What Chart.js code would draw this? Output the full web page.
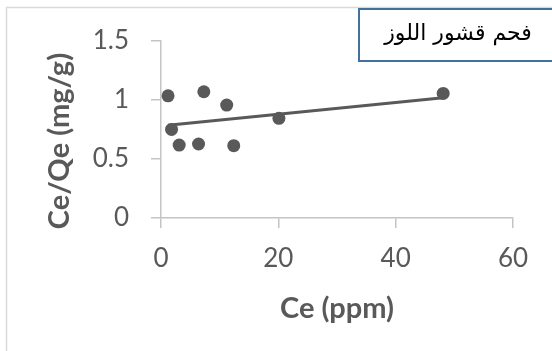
<!DOCTYPE html>
<html>
<head>
<meta charset="utf-8">
<script src="https://cdn.jsdelivr.net/npm/chart.js@4"></script>
<style>
  html, body { margin: 0; padding: 0; background: #ffffff; }
  #wrap { position: relative; width: 552px; height: 351px; overflow: hidden; }
</style>
</head>
<body>
<div id="wrap"><canvas id="chart" width="552" height="351"></canvas></div>
<script>
// Ce (ppm) against Ce/Qe (mg/g)
const ceValues = [1.2, 7.3, 11.2, 1.8, 3.1, 6.4, 12.4, 20.1, 48.1];
const ceQeValues = [1.035, 1.07, 0.957, 0.751, 0.618, 0.627, 0.613, 0.845, 1.056];
const xTicks = [0, 20, 40, 60];
const yTicks = [0, 0.5, 1, 1.5];
const boxTitle = 'فحم قشور اللوز';
const xTitle = 'Ce (ppm)';
const yTitle = 'Ce/Qe (mg/g)';

const grey = '#595959';
const axisGrey = '#c4c4c4';

// least squares fit, drawn across the range of the data
function linearFit(xs, ys) {
    const n = xs.length;
    const mx = xs.reduce((a, b) => a + b, 0) / n;
    const my = ys.reduce((a, b) => a + b, 0) / n;
    let sxy = 0, sxx = 0;
    for (let i = 0; i < n; i++) {
        sxy += (xs[i] - mx) * (ys[i] - my);
        sxx += (xs[i] - mx) * (xs[i] - mx);
    }
    const slope = sxy / sxx;
    return { slope: slope, intercept: my - slope * mx };
}

const fit = linearFit(ceValues, ceQeValues);
const xMin = Math.min(...ceValues);
const xMax = Math.max(...ceValues);
const trendPoints = [
    { x: xMin, y: fit.intercept + fit.slope * xMin },
    { x: xMax, y: fit.intercept + fit.slope * xMax }
];

const points = ceValues.map((x, i) => ({ x: x, y: ceQeValues[i] }));

// frame, title box and the vertical axis title
const decorations = {
    id: 'decorations',
    beforeDraw(chart) {
        const ctx = chart.ctx;
        ctx.save();
        ctx.strokeStyle = '#d9d9d9';
        ctx.lineWidth = 1.5;
        ctx.strokeRect(6.5, 7.5, 700, 500);
        ctx.restore();
    },
    afterDraw(chart) {
        const ctx = chart.ctx;
        ctx.save();
        ctx.fillStyle = '#ffffff';
        ctx.fillRect(358, 8, 250, 54);
        ctx.strokeStyle = '#41719c';
        ctx.lineWidth = 2;
        ctx.strokeRect(359, 9, 250, 52);
        ctx.fillStyle = '#000000';
        ctx.font = '22px "DejaVu Sans", sans-serif';
        ctx.direction = 'rtl';
        ctx.textAlign = 'center';
        ctx.textBaseline = 'middle';
        ctx.fillText(boxTitle, 458, 34);
        ctx.restore();

        ctx.save();
        ctx.translate(60, 141);
        ctx.rotate(-Math.PI / 2);
        ctx.fillStyle = grey;
        ctx.font = 'bold 29px Lato, sans-serif';
        ctx.textAlign = 'center';
        ctx.textBaseline = 'middle';
        ctx.fillText(yTitle, 0, 0);
        ctx.restore();
    }
};

new Chart(document.getElementById('chart'), {
    type: 'scatter',
    data: {
        datasets: [{
            data: points,
            backgroundColor: grey,
            borderColor: grey,
            pointRadius: 6.5,
            pointHoverRadius: 6.5,
            borderWidth: 0
        }, {
            type: 'line',
            data: trendPoints,
            borderColor: grey,
            borderWidth: 3,
            pointRadius: 0,
            fill: false
        }]
    },
    options: {
        responsive: false,
        animation: false,
        layout: { padding: { top: 41, right: 39, left: 0, bottom: 0 } },
        plugins: {
            legend: { display: false },
            tooltip: { enabled: false }
        },
        scales: {
            x: {
                type: 'linear',
                min: 0,
                max: 60,
                afterBuildTicks(scale) {
                    scale.ticks = xTicks.map(v => ({ value: v }));
                },
                afterFit(scale) { scale.height = 133; },
                grid: {
                    drawOnChartArea: false,
                    tickLength: 10,
                    color: axisGrey,
                    lineWidth: 1.5
                },
                border: { color: axisGrey, width: 1.5 },
                ticks: {
                    color: grey,
                    font: { family: 'Lato', size: 26 },
                    padding: 15,
                    callback: v => String(v)
                },
                title: {
                    display: true,
                    text: xTitle,
                    color: grey,
                    font: { family: 'Lato', size: 29, weight: 'bold' },
                    padding: { top: 0, bottom: 25 }
                }
            },
            y: {
                type: 'linear',
                min: 0,
                max: 1.5,
                afterBuildTicks(scale) {
                    scale.ticks = yTicks.map(v => ({ value: v }));
                },
                afterFit(scale) { scale.width = 161; },
                grid: {
                    drawOnChartArea: false,
                    tickLength: 10,
                    color: axisGrey,
                    lineWidth: 1.5
                },
                border: { color: axisGrey, width: 1.5 },
                ticks: {
                    color: grey,
                    font: { family: 'Lato', size: 26 },
                    padding: 22,
                    callback: v => String(v)
                }
            }
        }
    },
    plugins: [decorations]
});
</script>
</body>
</html>
